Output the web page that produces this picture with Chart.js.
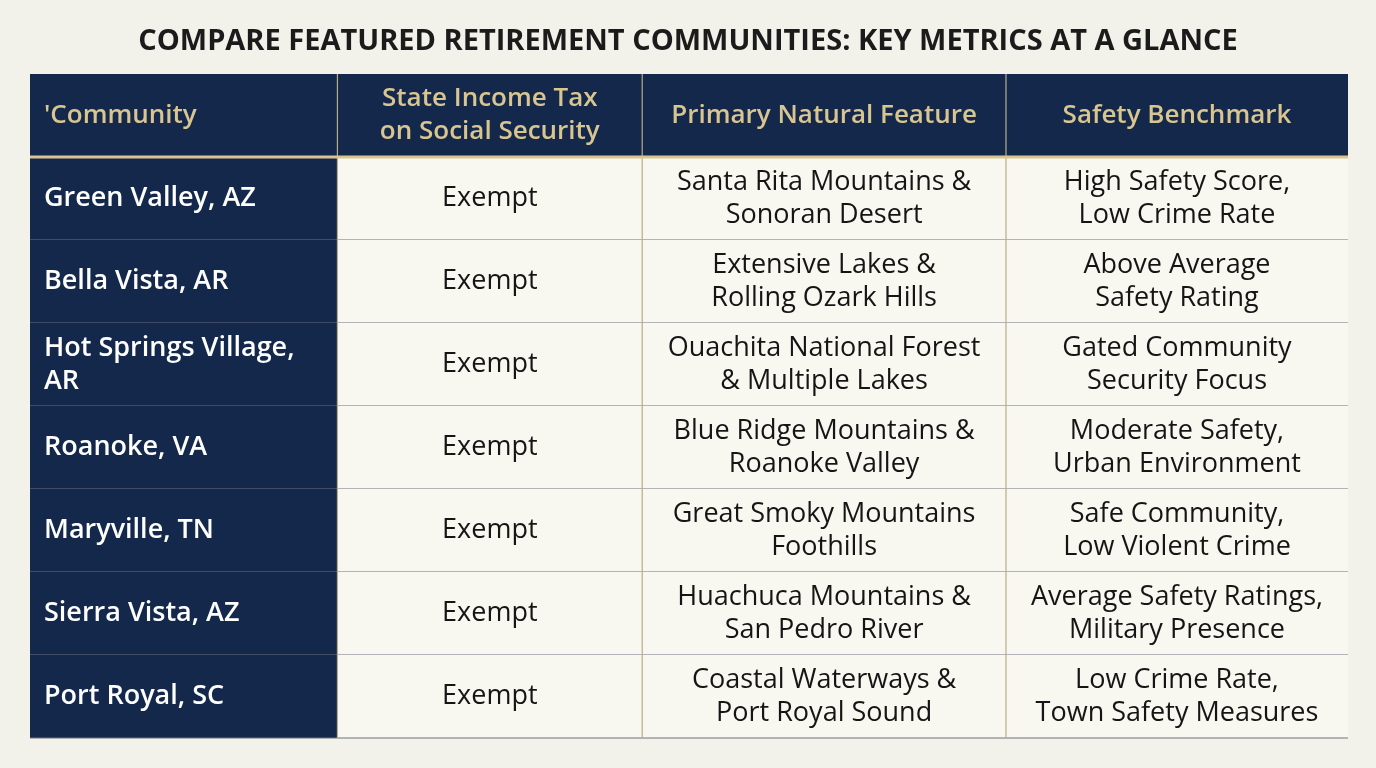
<!DOCTYPE html>
<html>
<head>
<meta charset="utf-8">
<script src="https://cdn.jsdelivr.net/npm/chart.js@4"></script>
<style>
html,body{margin:0;padding:0;background:#f3f2ea;}
#wrap{width:1376px;height:768px;}
</style>
</head>
<body>
<div id="wrap"><canvas id="table"></canvas></div>
<script>
// data
const title = "COMPARE FEATURED RETIREMENT COMMUNITIES: KEY METRICS AT A GLANCE";
const headers = [["'Community"], ["State Income Tax", "on Social Security"], ["Primary Natural Feature"], ["Safety Benchmark"]];
const communities = [["Green Valley, AZ"], ["Bella Vista, AR"], ["Hot Springs Village,", "AR"], ["Roanoke, VA"], ["Maryville, TN"], ["Sierra Vista, AZ"], ["Port Royal, SC"]];
const taxStatus = ["Exempt", "Exempt", "Exempt", "Exempt", "Exempt", "Exempt", "Exempt"];
const naturalFeature = [
["Santa Rita Mountains &", "Sonoran Desert"],
["Extensive Lakes &", "Rolling Ozark Hills"],
["Ouachita National Forest", "& Multiple Lakes"],
["Blue Ridge Mountains &", "Roanoke Valley"],
["Great Smoky Mountains", "Foothills"],
["Huachuca Mountains &", "San Pedro River"],
["Coastal Waterways &", "Port Royal Sound"]
];
const safety = [
["High Safety Score,", "Low Crime Rate"],
["Above Average", "Safety Rating"],
["Gated Community", "Security Focus"],
["Moderate Safety,", "Urban Environment"],
["Safe Community,", "Low Violent Crime"],
["Average Safety Ratings,", "Military Presence"],
["Low Crime Rate,", "Town Safety Measures"]
];

// layout (x in column units, y in row units)
const colEdges = [0, 0.933, 1.858, 2.962, 4];
const headerHeight = 1;

const navy = "#14284b";
const gold = "#d9c590";
const cream = "#f8f7f0";

const tablePlugin = {
id: "tableDraw",
afterDraw(chart){
const ctx = chart.ctx;
const xs = chart.scales.x, ys = chart.scales.y;
const X = v => xs.getPixelForValue(v);
const Y = v => ys.getPixelForValue(v);
const nRows = communities.length;
ctx.save();
ctx.fillStyle = "#1b1b1b";
ctx.font = "bold 29px 'Open Sans'";
ctx.textAlign = "center";
ctx.textBaseline = "middle";
ctx.fillText(title, 688, 42);

const lines = (arr, cx, cy, align) => {
const lh = 33;
arr.forEach((t, i) => {
ctx.textAlign = align;
ctx.fillText(t, cx, cy + (i - (arr.length - 1) / 2) * lh);
});
};

// header
ctx.fillStyle = navy;
ctx.fillRect(X(0), Y(0), X(4) - X(0), Y(headerHeight) - Y(0));
ctx.font = "600 26px 'Open Sans'";
ctx.fillStyle = gold;
headers.forEach((h, c) => {
const cy = (Y(0) + Y(headerHeight)) / 2;
if (c === 0) lines(h, X(0) + 14, cy, "left");
else lines(h, (X(colEdges[c]) + X(colEdges[c + 1])) / 2, cy, "center");
});

for (let r = 0; r < nRows; r++){
const y0 = Y(headerHeight + r), y1 = Y(headerHeight + r + 1);
const cy = (y0 + y1) / 2;
ctx.fillStyle = navy;
ctx.fillRect(X(0), y0, X(colEdges[1]) - X(0), y1 - y0);
ctx.fillStyle = cream;
ctx.fillRect(X(colEdges[1]), y0, X(4) - X(colEdges[1]), y1 - y0);
ctx.font = "600 27px 'Open Sans'";
ctx.fillStyle = "#ffffff";
lines(communities[r], X(0) + 14, cy, "left");
ctx.font = "27px 'Open Sans'";
ctx.fillStyle = "#151515";
lines([taxStatus[r]], (X(colEdges[1]) + X(colEdges[2])) / 2, cy, "center");
lines(naturalFeature[r], (X(colEdges[2]) + X(colEdges[3])) / 2, cy, "center");
lines(safety[r], (X(colEdges[3]) + X(colEdges[4])) / 2, cy, "center");
// row separator
ctx.strokeStyle = "#6c7282";
ctx.lineWidth = 1.2;
ctx.beginPath();
ctx.moveTo(X(0), y1); ctx.lineTo(X(4), y1);
ctx.stroke();
}
// column separators
ctx.strokeStyle = "#b8ad8a";
ctx.lineWidth = 1.2;
for (let c = 1; c < 4; c++){
ctx.beginPath();
ctx.moveTo(X(colEdges[c]), Y(0));
ctx.lineTo(X(colEdges[c]), Y(headerHeight + nRows));
ctx.stroke();
}
// gold line under header
ctx.strokeStyle = gold;
ctx.lineWidth = 3;
ctx.beginPath();
ctx.moveTo(X(0), Y(headerHeight)); ctx.lineTo(X(4), Y(headerHeight));
ctx.stroke();
ctx.restore();
}
};

new Chart(document.getElementById("table"), {
type: "scatter",
data: { datasets: [{ data: [] }] },
options: {
responsive: true,
maintainAspectRatio: false,
animation: false,
layout: { padding: { left: 30, right: 28, top: 74, bottom: 30 } },
plugins: { legend: { display: false }, tooltip: { enabled: false } },
scales: {
x: { type: "linear", min: 0, max: 4, display: false },
y: { type: "linear", min: 0, max: headerHeight + communities.length, reverse: true, display: false }
}
},
plugins: [tablePlugin]
});
</script>
</body>
</html>
